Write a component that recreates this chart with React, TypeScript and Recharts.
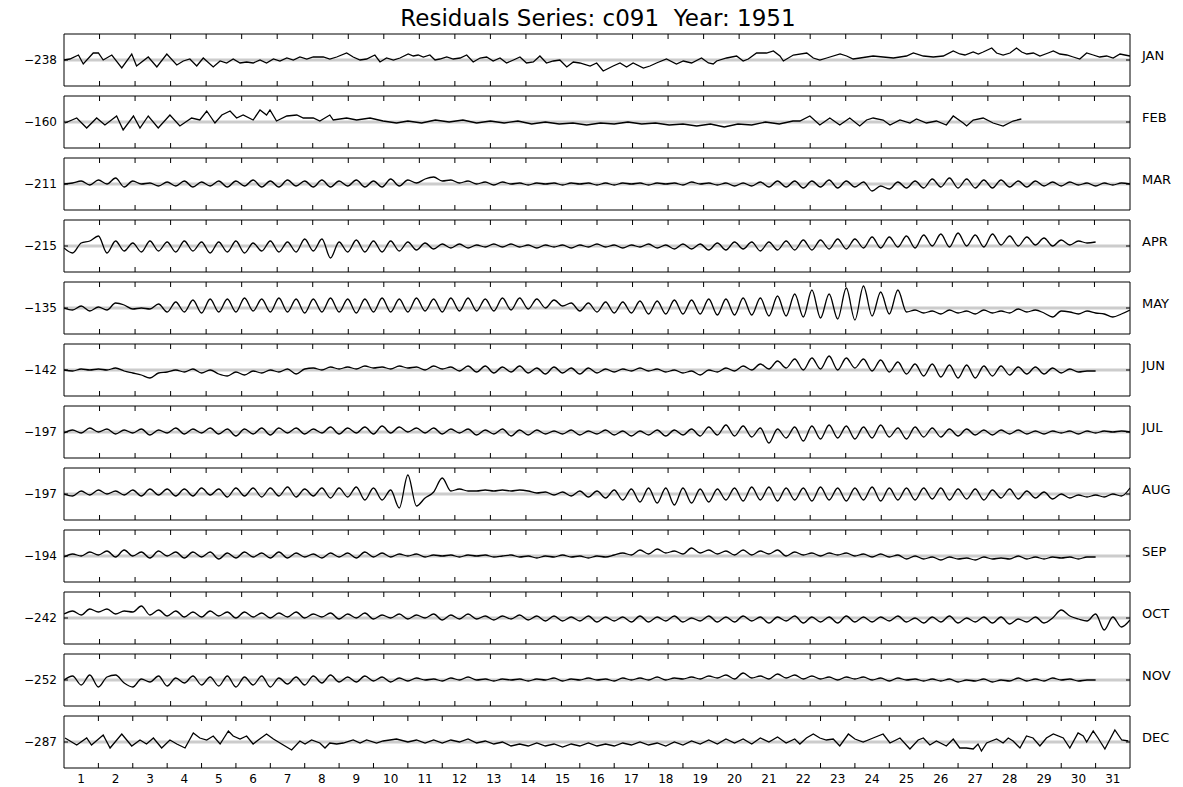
import React from 'react';
import { ComposedChart, Line, Scatter, XAxis, YAxis, ReferenceLine } from 'recharts';

const MONTHS = ['JAN', 'FEB', 'MAR', 'APR', 'MAY', 'JUN', 'JUL', 'AUG', 'SEP', 'OCT', 'NOV', 'DEC'];
const BASELINES = [-238, -160, -211, -215, -135, -142, -197, -197, -194, -242, -252, -287];
const DAY_LABELS = Array.from({ length: 31 }, (_, k) => String(k + 1));
const TITLE = 'Residuals Series: c091  Year: 1951';

// [day of month (fractional), residual deviation from baseline]
const JAN: [number, number][] = [[0,0],[0.17,1],[0.42,5],[0.56,-4],[0.85,7],[1.0,7],[1.14,0],[1.39,5],[1.68,-8],[1.97,6],[2.11,-6],[2.45,3],[2.7,-7],[2.99,6],[3.28,-5],[3.47,-1],[3.66,1],[3.86,-6],[4.05,2],[4.34,-7],[4.54,-1],[4.73,-3],[4.92,1],[5.12,-3],[5.31,-2],[5.5,-3],[5.7,0],[5.89,-3],[6.09,1],[6.28,-1],[6.48,2],[6.67,0],[6.86,3],[7.06,1],[7.25,3],[7.54,3],[7.73,1],[7.93,3],[8.22,7],[8.41,3],[8.61,0],[8.8,1],[9.04,5],[9.19,-2],[9.38,2],[9.58,0],[9.77,2],[10.01,6],[10.16,4],[10.3,5],[10.45,3],[10.64,5],[10.79,0],[10.93,1],[11.13,3],[11.32,1],[11.52,2],[11.71,5],[11.9,-2],[12.1,2],[12.29,3],[12.48,-1],[12.68,2],[12.87,-3],[13.07,0],[13.26,3],[13.45,-3],[13.65,-2],[13.84,4],[14.03,-3],[14.23,-1],[14.42,0],[14.62,-7],[14.81,-2],[15.0,-3],[15.3,-6],[15.49,-3],[15.68,-11],[15.97,-6],[16.17,-3],[16.36,-7],[16.55,-3],[16.85,-8],[17.04,-6],[17.23,-3],[17.52,1],[17.81,-4],[18.01,-1],[18.25,-3],[18.54,2],[18.74,-3],[18.88,-4],[18.98,-1],[19.27,2],[19.56,4],[19.75,-1],[19.9,1],[20.14,7],[20.43,7],[20.63,9],[20.82,4],[20.92,-1],[21.21,5],[21.6,7],[21.79,2],[21.98,0],[22.18,2],[22.57,6],[22.76,4],[22.95,1],[23.15,2],[23.53,4],[23.82,3],[24.12,2],[24.5,4],[24.7,7],[24.99,4],[25.28,3],[25.57,4],[25.86,9],[26.05,6],[26.2,5],[26.44,8],[26.59,6],[26.73,8],[26.98,12],[27.12,7],[27.31,5],[27.51,7],[27.7,12],[27.85,8],[28.0,6],[28.19,7],[28.38,4],[28.62,7],[28.77,9],[28.96,6],[29.16,5],[29.35,3],[29.54,1],[29.74,7],[29.93,5],[30.12,3],[30.32,4],[30.51,2],[30.71,6],[30.85,5],[31,4]];
const FEB: [number, number][] = [[0.03,-1],[0.37,4],[0.66,-6],[0.95,4],[1.19,-3],[1.53,6],[1.72,-8],[2.02,6],[2.21,-6],[2.45,6],[2.74,-6],[3.08,7],[3.37,-4],[3.71,4],[3.95,2],[4.15,11],[4.39,-1],[4.59,7],[4.83,11],[5.02,4],[5.21,7],[5.5,2],[5.7,12],[5.89,7],[5.99,12],[6.18,1],[6.48,6],[6.77,7],[6.96,4],[7.25,4],[7.44,1],[7.73,7],[7.83,2],[8.22,4],[8.51,2],[8.9,4],[9.28,1],[9.67,-1],[10.0,1],[10.4,-1],[10.8,2],[11.2,0],[11.6,2],[12.0,-1],[12.4,1],[12.8,-1],[13.2,1],[13.6,-2],[14.0,0],[14.4,-2],[14.8,-1],[15.2,-3],[15.6,-1],[16.0,-2],[16.4,0],[16.8,-2],[17.2,-1],[17.6,-3],[18.0,-2],[18.4,-4],[18.8,-2],[19.2,-5],[19.6,-2],[20.0,-3],[20.4,0],[20.8,-2],[21.2,1],[21.4,1],[21.69,6],[21.98,-3],[22.27,4],[22.56,-3],[22.85,4],[23.14,-4],[23.34,2],[23.53,4],[23.82,2],[24.02,-3],[24.31,2],[24.6,-1],[24.79,3],[25.08,-1],[25.37,1],[25.66,-3],[25.86,6],[26.15,-1],[26.25,-4],[26.44,2],[26.73,4],[27.02,-1],[27.31,-4],[27.6,1],[27.84,3]];

// six-hourly readings (every 0.25 day from day 0)
const MAR_Q = [0,1,3,-1, 4,0,6,-3, 3,0,1,-2, 2,-2,3,-3, 2,-2,3,-3, 3,-2,4,-3, 3,-3,4,-2, 3,-3,4,-3, 3,-2,4,-3, 3,-3,5,-2, 4,1,5,7, 3,4,1,3, 0,2,-1,2, 0,1,-1,1, 0,1,-1,1, 0,1,-1,1, -1,1,0,1, -1,1,0,1, -1,2,0,1, -1,1,-2,1, -2,2,-3,3, -3,3,-4,3, -3,4,-4,3, -3,2,-7,-2, -5,2,-4,3, -4,5,-3,6, -4,5,-4,4, -4,4,-3,3, -3,3,-2,2, -2,2,-1,1, -2,1,-1,1, 0];
const APR_Q = [-2,-7,3,5, 10,-7,5,-5, 3,-6,5,-5, 4,-6,5,-5, 4,-7,4,-6, 5,-7,3,-5, 5,-6,4,-6, 7,-5,7,-12, 4,-6,6,-6, 5,-6,5,-5, 4,-4,3,-3, 2,-2,2,-2, 1,-1,2,-1, 2,-1,1,-2, 1,-1,1,-2, 1,-1,2,-1, 1,-2,1,-1, 2,-2,1,-3, 2,-3,2,-4, 3,-4,4,-3, 4,-5,4,-4, 5,-4,6,-4, 6,-3,7,-3, 7,-2,9,-2, 9,-1,10,-2, 11,0,12,-1, 13,0,11,-1, 12,1,10,0, 9,1,8,0, 6,1,5,3, 4];
const MAY_Q = [0,-2,2,-3, 1,-2,5,3, -1,0,-1,4, -4,6,-4,8, -5,9,-4,9, -4,10,-3,9, -4,10,-4,9, -5,9,-4,10, -4,9,-5,9, -4,10,-4,9, -4,10,-3,9, -4,10,-3,10, -3,9,-3,10, -2,10,-1,9, 0,8,2,5, -3,5,-4,6, -5,6,-5,7, -6,7,-6,8, -6,8,-6,9, -7,9,-7,10, -7,10,-8,12, -8,14,-9,18, -10,14,-11,20, -12,22,-8,16, -6,18,-4,-2, -5,-3,-6,-2, -5,-3,-6,-2, -5,-3,-5,-1, -4,-2,-5,-9, -3,-4,-6,-3, -5,-6,-9,-6, -2];
const JUN_Q = [0,-1,1,0, 1,0,2,-1, -3,-5,-8,-3, -2,0,-2,1, -3,0,-4,-6, -2,-5,-1,-3, 0,-2,1,-4, 1,2,0,3, 1,3,1,4, 2,3,1,4, 2,3,0,4, 1,3,-1,4, -2,4,-3,3, -2,4,-3,2, -4,3,-3,2, -4,2,-3,1, -2,1,-1,2, -1,1,-2,0, -3,-1,-5,0, -2,2,-1,4, 0,6,1,9, 2,11,0,12, 1,14,0,12, 2,11,-1,10, -2,8,-4,6, -6,6,-7,5, -8,5,-8,4, -6,4,-5,3, -4,3,-4,2, -3,1,-2,-1, -1];
const JUL_Q = [-1,2,-1,4, 0,3,-2,2, -1,3,-3,2, -1,4,-2,3, -1,4,-2,3, -4,3,-2,4, -3,4,-1,4, -2,3,-1,5, -2,4,-1,5, -2,6,-1,5, 0,4,-1,4, -2,3,-1,3, -3,2,-2,3, -4,2,-3,2, -2,1,-2,2, -3,1,-2,2, -3,1,-4,1, -3,2,-4,2, -3,3,-4,5, -3,7,-4,6, -5,4,-11,3, -6,5,-9,6, -7,7,-6,6, -7,5,-6,7, -5,4,-7,5, -5,4,-5,3, -4,3,-3,2, -3,2,-2,2, -2,1,-2,1, -1,1,-2,1, -1,1,0,1, 0];
const AUG_Q = [0,-2,3,-1, 4,0,3,-1, 4,-2,5,-1, 5,-2,5,-2, 6,-1,5,-3, 6,-2,6,-3, 6,-2,7,-3, 5,-2,6,-4, 6,-3,7,-6, 6,-6,4,-14, 19,-12,-4,2, 16,3,5,3, 3,4,3,4, 3,4,3,1, 2,-1,2,-2, 3,-3,3,-4, 4,-6,5,-8, 6,-9,6,-11, 6,-9,5,-8, 5,-6,6,-7, 7,-6,7,-7, 6,-6,6,-7, 7,-6,6,-7, 6,-6,7,-7, 6,-6,6,-6, 6,-5,6,-6, 5,-5,5,-6, 4,-4,5,-5, 3,-4,2,-5, 0,-4,-1,-3, -1,-3,0,-2, 6];
const SEP_Q = [-1,2,0,4, 1,5,-1,6, 0,4,-2,5, 0,4,-2,4, -1,4,-3,3, -2,4,-1,3, -2,4,-2,3, -1,2,-2,3, -1,3,-2,4, -1,3,-1,2, 0,2,-1,1, 0,1,-1,1, 0,1,-1,0, 1,-1,0,-2, 0,-1,1,-1, 0,-2,0,-1, 1,3,1,6, 2,7,3,5, 2,8,3,6, 2,5,1,6, 1,5,2,6, 0,4,1,3, 0,3,1,3, 0,2,-1,2, -1,1,-3,0, -3,-1,-4,-1, -3,-2,-4,-1, -3,-2,-3,0, -3,-1,-3,-1, -2,-1,-3,-1, -1];
const OCT_Q = [4,7,3,9, 6,9,4,7, 6,12,3,8, 2,7,1,6, 1,7,2,6, 0,6,1,5, 0,5,1,6, 0,4,1,5, -1,4,0,5, -1,3,0,4, -1,3,0,4, -2,3,-1,4, -1,2,-2,2, -1,3,-2,2, -3,2,-3,1, -3,2,-4,1, -3,1,-4,2, -4,1,-3,2, -4,0,-3,2, -4,1,-4,2, -3,1,-5,1, -3,2,-5,1, -4,1,-5,2, -4,1,-4,1, -3,2,-4,0, -5,1,-4,2, -5,0,-4,1, -5,1,-6,-1, -4,1,-5,0, 8,2,-1,-3, 4,-12,1,-9, -2];
const NOV_Q = [0,4,-5,5, -7,3,5,-3, -7,1,-2,4, -6,2,-3,4, -5,3,-6,4, -7,3,-5,4, -7,2,-4,3, -5,4,-3,5, -2,3,-2,4, -1,3,-2,2, -1,2,0,1, -1,2,0,3, 0,1,-1,1, 0,1,-1,1, 0,2,-1,1, 0,2,0,1, -1,2,0,2, 0,3,0,2, 1,3,1,4, 2,5,1,7, 2,4,1,6, 2,5,1,4, 1,3,0,3, 1,3,0,2, -1,2,0,1, -1,1,-1,1, -2,0,-1,1, -2,0,-1,2, -1,1,-1,2, 0,1,-1,0, 0];
const DEC: [number, number][] = [[0.03,4],[0.37,-3],[0.66,4],[0.8,-3],[1.14,7],[1.34,-6],[1.68,8],[1.97,-4],[2.21,2],[2.4,-2],[2.6,4],[2.84,-6],[3.08,2],[3.28,-2],[3.52,-6],[3.76,9],[3.95,4],[4.15,2],[4.34,6],[4.54,-2],[4.78,11],[4.92,6],[5.12,3],[5.31,6],[5.5,-2],[5.65,2],[5.89,8],[6.09,3],[6.33,-2],[6.62,-8],[6.86,1],[7.01,-2],[7.2,2],[7.44,-1],[7.59,-6],[7.73,-1],[7.93,-2],[8.12,-1],[8.41,2],[8.61,-1],[8.8,2],[9.09,-1],[9.28,1],[9.67,3],[10,0],[10.25,2],[10.5,-1],[10.75,2],[11,-1],[11.25,2],[11.5,0],[11.75,3],[12,-1],[12.25,1],[12.5,-2],[12.75,0],[13,-4],[13.25,-2],[13.5,-4],[13.75,-1],[14,-4],[14.25,-2],[14.5,-5],[14.75,-2],[15,-4],[15.25,-1],[15.5,-4],[15.75,-2],[16,-4],[16.25,-1],[16.5,-3],[16.75,0],[17,-3],[17.25,-1],[17.5,-4],[17.75,0],[18,-3],[18.25,1],[18.5,-2],[18.75,2],[19,-2],[19.25,3],[19.5,-1],[19.75,3],[20,-2],[20.25,4],[20.5,0],[20.75,5],[21,-1],[21.25,3],[21.4,-2],[21.59,4],[21.79,8],[21.98,4],[22.17,2],[22.37,3],[22.56,-4],[22.81,8],[23.0,3],[23.24,0],[23.53,4],[23.82,8],[24.02,-1],[24.31,4],[24.6,-7],[24.84,2],[24.99,4],[25.18,-3],[25.37,1],[25.66,-4],[25.86,3],[26.05,-6],[26.24,-6],[26.44,-7],[26.58,-2],[26.68,-9],[26.83,-1],[26.97,1],[27.12,3],[27.31,-1],[27.46,4],[27.6,1],[27.8,-6],[27.99,6],[28.18,4],[28.38,-4],[28.57,4],[28.77,8],[29.06,4],[29.25,-6],[29.49,9],[29.64,6],[29.74,0],[29.93,11],[30.07,4],[30.27,-7],[30.56,12],[30.76,2],[30.95,1]];

const fromQuarter = (vals: number[]): [number, number][] => vals.map((v, i) => [i * 0.25, v]);

const SERIES: [number, number][][] = [
  JAN, FEB, fromQuarter(MAR_Q), fromQuarter(APR_Q), fromQuarter(MAY_Q), fromQuarter(JUN_Q),
  fromQuarter(JUL_Q), fromQuarter(AUG_Q), fromQuarter(SEP_Q), fromQuarter(OCT_Q), fromQuarter(NOV_Q), DEC,
];
const SMOOTH = [false, false, true, true, true, true, true, true, true, true, true, false];

const W = 1183;
const H = 787;
const PLOT_LEFT = 64;
const PLOT_RIGHT = 1130;
const PANEL_TOP0 = 34;
const PANEL_STEP = 62;
const PANEL_H = 52;
const Y_AXIS_W = 60;
const DAYS = 31;
const Y_HALF = 26; // y domain half-range (residual units)
const FONT = "'DejaVu Sans', 'Bitstream Vera Sans', sans-serif";
const X_TICK_PX = 5;
const Y_TICK_PX = 4;

const TOP_TICKS = Array.from({ length: 29 }, (_, k) => ((k + 1) * DAYS) / 30);
const DEC_TICKS = Array.from({ length: 30 }, (_, k) => k + 1);
const MID_TICKS = DAY_LABELS.map((_, k) => k + 0.5);

const fmtBase = (v: number) => (v < 0 ? '\u2212' + Math.abs(v) : String(v));

// tick-mark shapes, positioned by the scatter's own scaled (cx, cy)
const DownMark = (p: any) => <line x1={p.cx} x2={p.cx} y1={p.cy} y2={p.cy + X_TICK_PX} stroke="#000" strokeWidth={1} />;
const UpMark = (p: any) => <line x1={p.cx} x2={p.cx} y1={p.cy} y2={p.cy - X_TICK_PX} stroke="#000" strokeWidth={1} />;
const RightMark = (p: any) => <line x1={p.cx} x2={p.cx + Y_TICK_PX} y1={p.cy} y2={p.cy} stroke="#000" strokeWidth={1} />;
const LeftMark = (p: any) => <line x1={p.cx} x2={p.cx - Y_TICK_PX} y1={p.cy} y2={p.cy} stroke="#000" strokeWidth={1} />;

const LeftTick = (p: any) => (
  <text x={p.x} y={p.y} dy="0.355em" textAnchor="end" fontSize={12} fontFamily={FONT} fill="#000">
    {fmtBase(BASELINES[p.panel])}
  </text>
);

function Panel({ idx }: { idx: number }) {
  const isLast = idx === 11;
  const data = SERIES[idx].map(([d, v]) => ({ d, v }));
  const ticks = isLast ? DEC_TICKS : TOP_TICKS;
  const labelH = isLast ? 20 : 0;
  const axisStroke = { stroke: '#000', strokeWidth: 1 };
  const ax = { xAxisId: 'b', yAxisId: 'l' };
  const topMarks = ticks.map((t) => ({ d: t, v: Y_HALF }));
  const bottomMarks = ticks.map((t) => ({ d: t, v: -Y_HALF }));
  return (
    <div style={{ position: 'absolute', left: 0, top: PANEL_TOP0 + idx * PANEL_STEP - 1 }}>
      <ComposedChart
        width={W}
        height={PANEL_H + 2 + labelH}
        data={data}
        margin={{ top: 0, bottom: 0, left: PLOT_LEFT - Y_AXIS_W, right: W - PLOT_RIGHT - 1 }}
      >
        <XAxis xAxisId="t" orientation="top" height={1} type="number" dataKey="d" domain={[0, DAYS]} allowDataOverflow ticks={ticks} interval={0} tick={false} tickLine={false} axisLine={axisStroke} />
        <XAxis xAxisId="b" orientation="bottom" height={1} type="number" dataKey="d" domain={[0, DAYS]} allowDataOverflow ticks={ticks} interval={0} tick={false} tickLine={false} axisLine={axisStroke} />
        {isLast && (
          <XAxis
            xAxisId="lbl"
            orientation="bottom"
            type="number"
            dataKey="d"
            domain={[0, DAYS]}
            allowDataOverflow
            ticks={MID_TICKS}
            interval={0}
            height={labelH}
            tickSize={0}
            tickMargin={5}
            tickLine={false}
            axisLine={false}
            tickFormatter={(v: number) => DAY_LABELS[Math.round(v - 0.5)]}
            tick={{ fill: '#000', fontSize: 12, fontFamily: FONT }}
          />
        )}
        <YAxis
          yAxisId="l"
          orientation="left"
          width={Y_AXIS_W}
          type="number"
          domain={[-Y_HALF, Y_HALF]}
          allowDataOverflow
          ticks={[0]}
          interval={0}
          tickSize={0}
          tickMargin={7}
          tickLine={false}
          tick={(p: any) => <LeftTick {...p} panel={idx} />}
          axisLine={axisStroke}
        />
        <YAxis yAxisId="r" orientation="right" width={1} type="number" domain={[-Y_HALF, Y_HALF]} allowDataOverflow ticks={[0]} interval={0} tick={false} tickLine={false} axisLine={axisStroke} />
        <ReferenceLine {...ax} y={0} stroke="#cccccc" strokeWidth={3} />
        <Scatter {...ax} data={topMarks} dataKey="v" shape={DownMark} isAnimationActive={false} />
        <Scatter {...ax} data={bottomMarks} dataKey="v" shape={UpMark} isAnimationActive={false} />
        <Scatter {...ax} data={[{ d: 0, v: 0 }]} dataKey="v" shape={RightMark} isAnimationActive={false} />
        <Scatter {...ax} data={[{ d: DAYS, v: 0 }]} dataKey="v" shape={LeftMark} isAnimationActive={false} />
        <Line {...ax} dataKey="v" type={SMOOTH[idx] ? 'monotone' : 'linear'} stroke="#000" strokeWidth={1.3} dot={false} activeDot={false} isAnimationActive={false} />
      </ComposedChart>
    </div>
  );
}

export default function App() {
  return (
    <div style={{ position: 'absolute', left: 0, top: 0, width: W, height: H, background: '#fff', overflow: 'hidden' }}>
      {MONTHS.map((_, i) => (
        <Panel key={i} idx={i} />
      ))}
      <svg width={W} height={H} style={{ position: 'absolute', left: 0, top: 0, pointerEvents: 'none' }}>
        <text x={598} y={26} textAnchor="middle" fontSize={23} fontFamily={FONT} fill="#000" style={{ whiteSpace: 'pre' }}>
          {TITLE}
        </text>
        {MONTHS.map((m, i) => (
          <text key={m} x={1142} y={PANEL_TOP0 + i * PANEL_STEP + PANEL_H / 2} fontSize={13} fontFamily={FONT} fill="#000">
            {m}
          </text>
        ))}
      </svg>
    </div>
  );
}
